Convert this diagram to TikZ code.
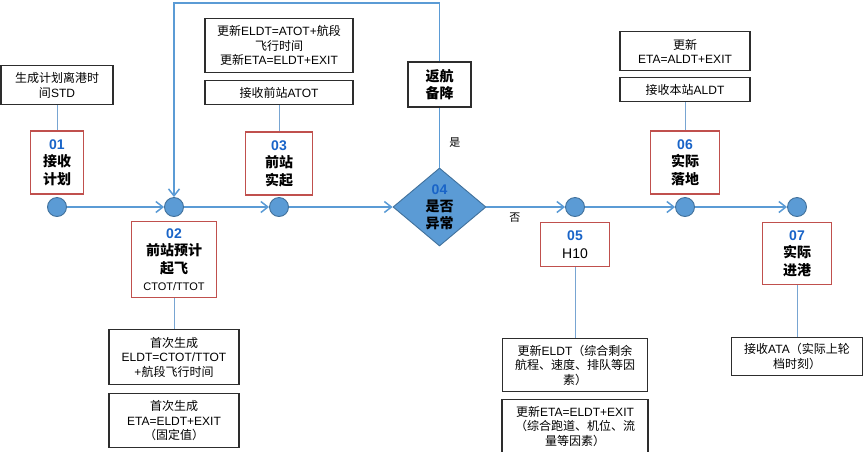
\documentclass[tikz,border=0pt]{standalone}
\usepackage{fontspec}
\setmainfont{Liberation Sans}
\newfontfamily\cjkfont{Noto Sans CJK SC}
\usepackage{xcolor}
\usepackage{tikz}
\usetikzlibrary{arrows.meta,positioning,shapes.geometric}
\definecolor{flowBlue}{RGB}{91,155,213}
\definecolor{flowEdge}{RGB}{65,113,156}
\definecolor{linkBlue}{RGB}{120,165,210}
\definecolor{stageRed}{RGB}{192,80,77}
\definecolor{numBlue}{RGB}{25,100,200}
\definecolor{noteGray}{RGB}{45,45,45}
\newcommand{\zh}[1]{{\cjkfont #1}}
\newcommand{\stepno}[1]{{\color{numBlue}#1}}

\begin{document}
\begin{tikzpicture}[
    x=1pt, y=-1pt,
    dot/.style={circle, draw=flowEdge, line width=0.9pt, fill=flowBlue, minimum size=19pt, inner sep=0pt},
    stage/.style={rectangle, draw=stageRed, line width=1.1pt, fill=white, align=center, inner sep=1pt, font=\bfseries\fontsize{14}{17.5}\selectfont},
    decision/.style={diamond, draw=flowEdge, line width=0.9pt, fill=flowBlue, aspect=1.19, minimum width=93pt, minimum height=78pt, inner sep=0pt, align=center, font=\bfseries\fontsize{14}{17}\selectfont},
    note/.style={rectangle, draw=noteGray, line width=1.1pt, fill=white, align=center, inner sep=2pt, font=\fontsize{12}{14.5}\selectfont},
    lbl/.style={font=\fontsize{11}{13}\selectfont, inner sep=1pt},
    flow/.style={-{Straight Barb[length=7pt,width=11pt]}, line width=1.5pt, draw=flowBlue},
    link/.style={line width=1pt, draw=linkBlue}
]
\useasboundingbox (0,0) rectangle (864,451);

% main line
\node[dot] (c01) at (57,207) {};
\node[dot] (c02) at (174,207) {};
\node[dot] (c03) at (279,207) {};
\node[decision] (d04) at (439.5,207) {\stepno{04}\\\zh{是否}\\\zh{异常}};
\node[dot] (c05) at (575,207) {};
\node[dot] (c06) at (685,207) {};
\node[dot] (c07) at (797,207) {};

% stages
\node[stage, minimum width=53pt, minimum height=63pt, above=2.5pt of c01] (n01) {\stepno{01}\\\zh{接收}\\\zh{计划}};
\node[stage, minimum width=85pt, minimum height=76pt, below=4pt of c02] (n02) {\stepno{02}\\\zh{前站预计}\\\zh{起飞}\\{\mdseries\fontsize{11}{13}\selectfont CTOT/TTOT}};
\node[stage, minimum width=67pt, minimum height=63pt, above=1.5pt of c03] (n03) {\stepno{03}\\\zh{前站}\\\zh{实起}};
\node[stage, minimum width=69pt, minimum height=44pt, below=5pt of c05] (n05) {\stepno{05}\\{\mdseries H10}};
\node[stage, minimum width=69pt, minimum height=63pt, above=2.5pt of c06] (n06) {\stepno{06}\\\zh{实际}\\\zh{落地}};
\node[stage, minimum width=69pt, minimum height=62pt, below=5pt of c07] (n07) {\stepno{07}\\\zh{实际}\\\zh{进港}};

% notes
\node[note, minimum width=112pt, minimum height=39pt, above=25pt of n01] (std) {\zh{生成计划离港时}\\\zh{间}STD};
\node[note, minimum width=148pt, minimum height=24pt, above=26pt of n03] (atot) {\zh{接收前站}ATOT};
\node[note, minimum width=148pt, minimum height=54pt, above=7pt of atot] (upd03) {\zh{更新}ELDT=ATOT+\zh{航段}\\\zh{飞行时间}\\\zh{更新}ETA=ELDT+EXIT};
\node[note, minimum width=63pt, minimum height=45pt, above=60pt of d04, font=\bfseries\fontsize{14}{17.5}\selectfont] (ret) {\zh{返航}\\\zh{备降}};
\node[note, minimum width=130pt, minimum height=24pt, above=28pt of n06] (aldt) {\zh{接收本站}ALDT};
\node[note, minimum width=130pt, minimum height=39pt, above=6pt of aldt] (upd06) {\zh{更新}\\ETA=ALDT+EXIT};
\node[note, minimum width=130pt, minimum height=55pt, below=31pt of n02] (eldt02) {\zh{首次生成}\\ELDT=CTOT/TTOT\\+\zh{航段飞行时间}};
\node[note, minimum width=130pt, minimum height=54pt, below=8pt of eldt02] (eta02) {\zh{首次生成}\\ETA=ELDT+EXIT\\\zh{（固定值）}};
\node[note, minimum width=145pt, minimum height=53pt, below=71pt of n05] (eldt05) {\zh{更新}ELDT\zh{（综合剩余}\\\zh{航程、速度、排队等因}\\\zh{素）}};
\node[note, minimum width=146pt, minimum height=53pt, below=7pt of eldt05] (eta05) {\zh{更新}ETA=ELDT+EXIT\\\zh{（综合跑道、机位、流}\\\zh{量等因素）}};
\node[note, minimum width=131pt, minimum height=38pt, below=52pt of n07] (ata) {\zh{接收}ATA\zh{（实际上轮}\\\zh{档时刻）}};

% flow
\draw[flow] (c01) -- (c02);
\draw[flow] (c02) -- (c03);
\draw[flow] (c03) -- (d04);
\draw[flow] (d04) -- (c05) node[lbl, pos=0.36, below=4pt] (no) {\zh{否}};
\draw[flow] (c05) -- (c06);
\draw[flow] (c06) -- (c07);

% return branch
\coordinate (topL) at (174,3);
\draw[line width=1.5pt, draw=flowBlue] (d04.north) -- (ret.south) node[lbl, pos=0.42, right=8pt] (yes) {\zh{是}};
\draw[flow] (ret.north) -- (ret.north |- topL) -- (topL) -- (c02);

% links
\draw[link] (std) -- (n01);
\draw[link] (atot) -- (n03);
\draw[link] (aldt) -- (n06);
\draw[link] (n02) -- (eldt02);
\draw[link] (n05) -- (eldt05);
\draw[link] (n07) -- (ata);
\end{tikzpicture}
\end{document}
